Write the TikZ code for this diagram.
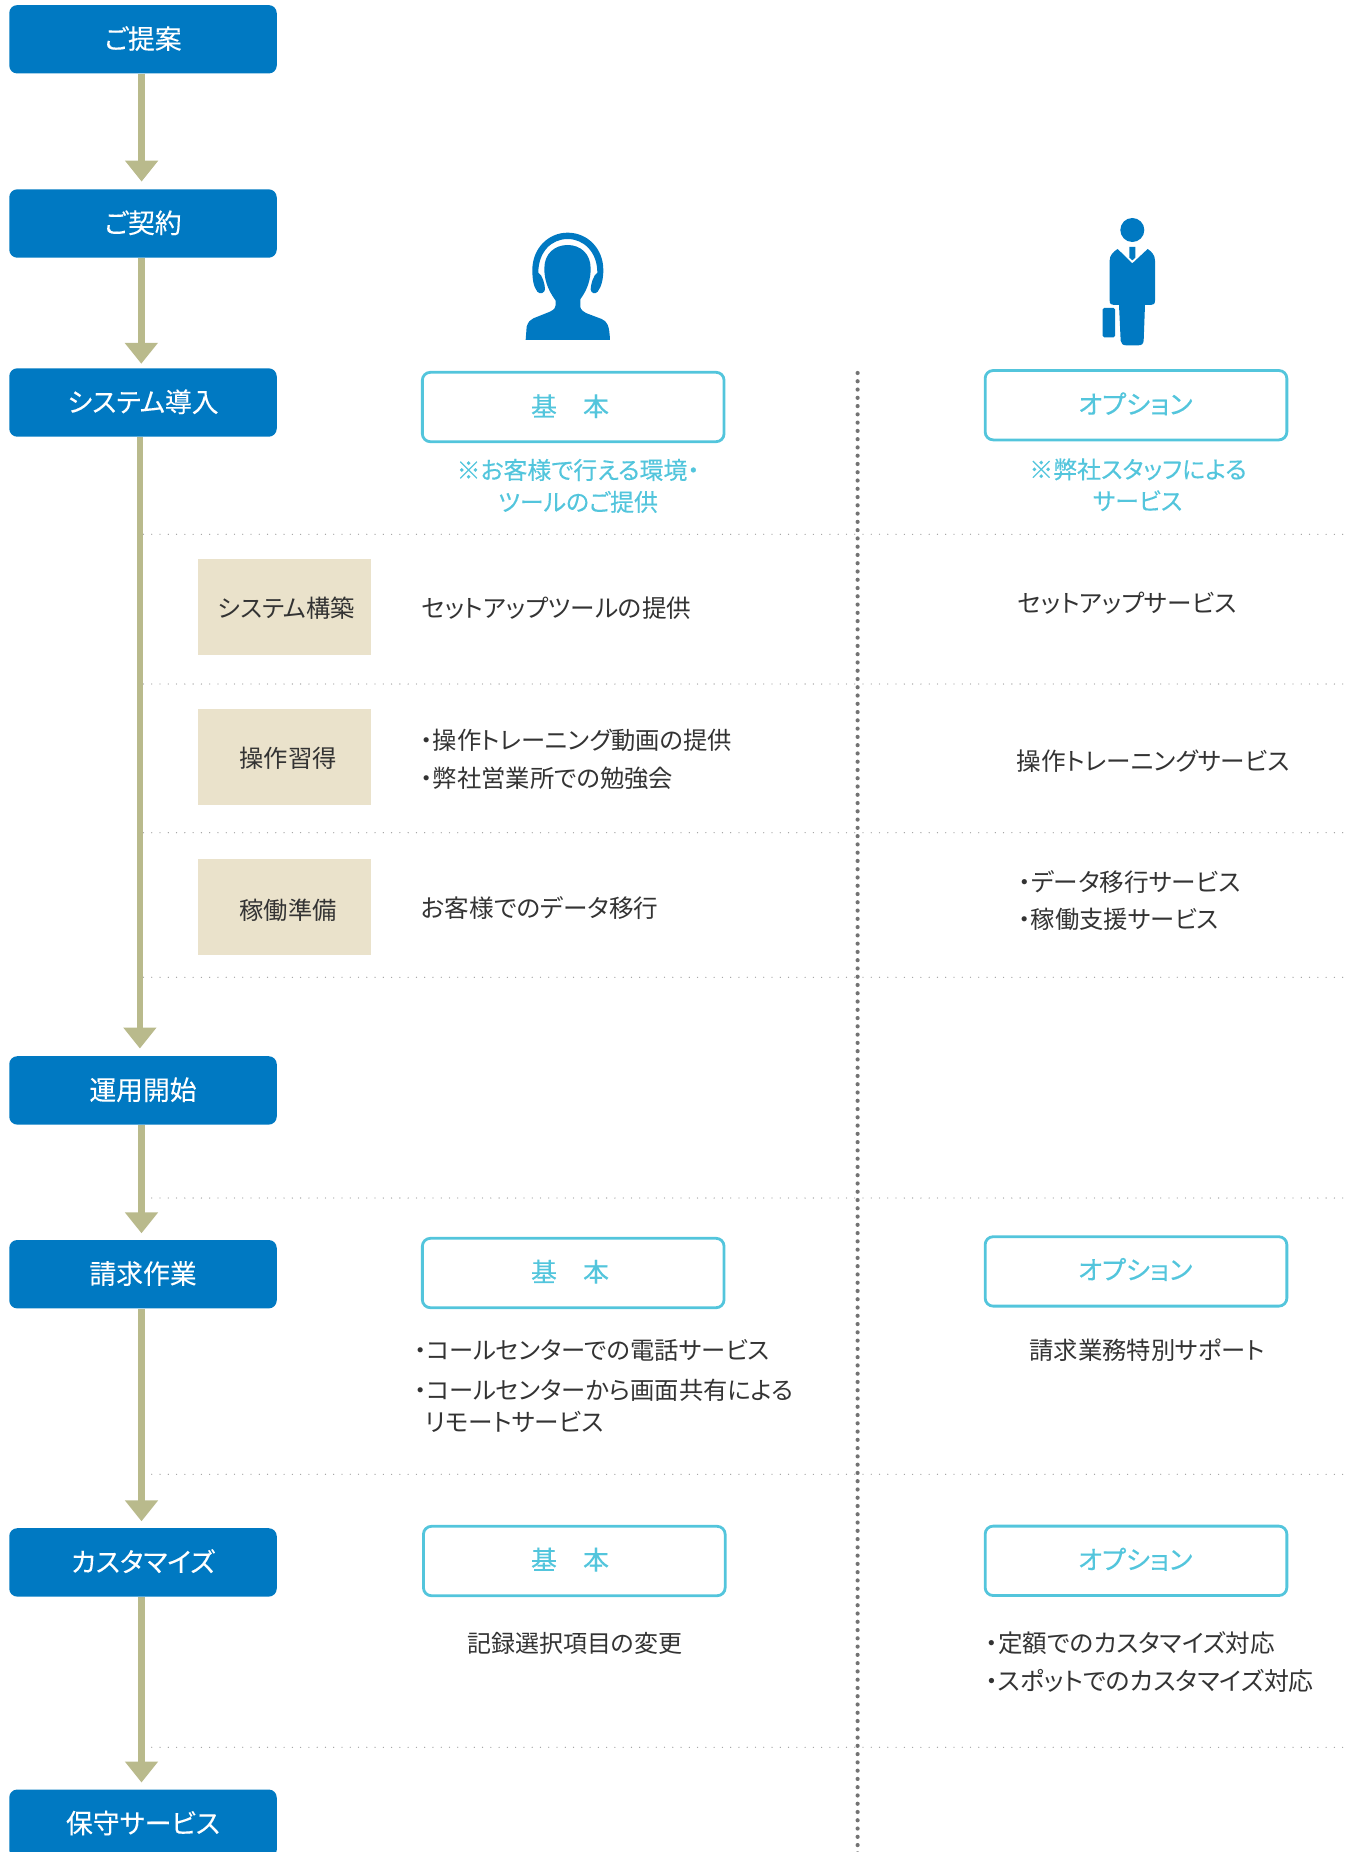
\documentclass[tikz,border=0pt]{standalone}
\usepackage{fontspec}
\usetikzlibrary{arrows.meta}
\setmainfont[RawFeature={+palt}]{Noto Sans CJK JP}
\newfontfamily\heavyjp[RawFeature={+palt},FakeBold=0.3]{Noto Sans CJK JP}
\newfontfamily\midjp[RawFeature={+palt},FakeBold=0.12]{Noto Sans CJK JP}
\definecolor{flowblue}{HTML}{0079C2}
\definecolor{shaftc}{HTML}{B9BA8C}
\definecolor{tealc}{HTML}{53C5DC}
\definecolor{beige}{HTML}{EAE2CB}
\definecolor{inkc}{HTML}{333333}
\tikzset{
  flowbox/.style={fill=flowblue,rounded corners=8pt,minimum width=267.5pt,minimum height=68.4pt,inner sep=0pt,text=white,font=\midjp\fontsize{26.8}{26.8}\selectfont,text height=22.2pt,text depth=3.2pt},
  flowarrow/.style={draw=shaftc,line width=6.7pt,-{Triangle[width=32pt,length=21pt]},shorten >=7.5pt},
  planbox/.style={draw=tealc,line width=2.8pt,rounded corners=8pt,minimum width=301.7pt,minimum height=69.4pt,inner sep=0pt},
  plantitle/.style={text=tealc,inner sep=0pt,font=\heavyjp\fontsize{26}{26}\selectfont,text height=22.9pt,text depth=3.1pt},
  noteline/.style={text=tealc,inner sep=0pt,font=\heavyjp\fontsize{23.9}{24}\selectfont,text height=21pt,text depth=2.9pt},
  phasebox/.style={fill=beige,minimum width=173pt,minimum height=96pt,inner sep=0pt},
  phaselabel/.style={text=inkc,inner sep=0pt,font=\fontsize{24.3}{24.3}\selectfont,text height=21.6pt,text depth=2.9pt},
  bodytext/.style={text=inkc,inner sep=0pt,font=\fontsize{24.6}{24.6}\selectfont,text height=21.6pt,text depth=3pt},
  kanjitext/.style={text=inkc,inner sep=0pt,font=\fontsize{24.3}{24.3}\selectfont,text height=21.6pt,text depth=3pt},
  rowrule/.style={draw=black!38,line width=1.3pt,line cap=round,dash pattern=on 0pt off 8.27pt},
  colrule/.style={draw=black!55,line width=4.2pt,line cap=round,dash pattern=on 0pt off 8.27pt},
}
\begin{document}
\begin{tikzpicture}[x=1pt,y=-1pt]
\useasboundingbox (0,0) rectangle (1344,1852);
\clip (0,0) rectangle (1344,1852);
% rules
\foreach \yy in {534.3,684,832.7,977.3,1198,1474.3,1747.3}
  \draw[rowrule] (143.5,\yy) -- (1344,\yy);
\draw[colrule] (857.6,373) -- (857.6,1865);
% flow boxes
\node[flowbox] (f1) at (143,39.3) {ご提案};
\node[flowbox] (f2) at (143,223.5) {ご契約};
\node[flowbox] (f3) at (143,402.5) {システム導入};
\node[flowbox] (f4) at (143,1090.4) {運用開始};
\node[flowbox] (f5) at (143,1274.2) {請求作業};
\node[flowbox] (f6) at (143,1562.4) {カスタマイズ};
\node[flowbox] (f7) at (143,1823.7) {保守サービス};
% arrows
\draw[flowarrow] ([xshift=-1.4pt]f1.south) -- ([xshift=-1.4pt]f2.north);
\draw[flowarrow,shorten >=4.3pt] ([xshift=-1.7pt]f2.south) -- ([xshift=-1.7pt]f3.north);
\draw[flowarrow] ([xshift=-3.1pt]f3.south) -- ([xshift=-3.1pt]f4.north);
\draw[flowarrow,shorten >=6.5pt] ([xshift=-1.5pt]f4.south) -- ([xshift=-1.5pt]f5.north);
\draw[flowarrow,shorten >=6.7pt] ([xshift=-1.5pt]f5.south) -- ([xshift=-1.5pt]f6.north);
\draw[flowarrow,shorten >=6.8pt] ([xshift=-1.5pt]f6.south) -- ([xshift=-1.5pt]f7.north);
% headset icon
\begin{scope}[shift={(500,210)},x=0.3333pt,y=-0.3333pt]
\fill[flowblue] (77,390) -- (80,350) .. controls (85,335) and (90,330) .. (100,325) -- (150,305)
  .. controls (165,298) and (167,290) .. (167,285) -- (167,272)
  .. controls (140,235) and (133,205) .. (133,175)
  .. controls (133,130) and (165,105) .. (203,105)
  .. controls (240,105) and (272,130) .. (272,175)
  .. controls (272,205) and (265,235) .. (241,268) -- (241,290)
  .. controls (241,298) and (250,305) .. (260,310) -- (305,327)
  .. controls (322,335) and (328,345) .. (330,390) -- cycle;
\fill[flowblue] (115,188) .. controls (128,195) and (135,225) .. (135,238)
  .. controls (135,248) and (120,255) .. (112,245)
  .. controls (100,230) and (97,205) .. (97,180)
  .. controls (97,115) and (145,68) .. (203,68)
  .. controls (262,68) and (310,115) .. (310,180)
  .. controls (310,205) and (305,230) .. (293,245)
  .. controls (285,255) and (272,248) .. (272,238)
  .. controls (272,225) and (280,195) .. (292,188)
  .. controls (292,125) and (250,87) .. (203,87)
  .. controls (155,87) and (115,125) .. (115,188) -- cycle;
\end{scope}
% businessman icon
\begin{scope}[shift={(1080,210)},x=0.3333pt,y=-0.3333pt]
\fill[flowblue] (157,60) circle[radius=12pt];
\fill[flowblue] (148,111) -- (166,111) -- (166,143) -- (157,151) -- (148,143) -- cycle;
\fill[flowblue] (113,117) -- (157,160) -- (203,117) .. controls (215,125) and (225,135) .. (225,152)
  -- (225,272) .. controls (225,282) and (220,285) .. (212,285) -- (195,285) -- (191,392)
  .. controls (190,402) and (185,406) .. (175,406) -- (138,406)
  .. controls (128,406) and (123,400) .. (122,392) -- (117,285) -- (102,285)
  .. controls (94,285) and (89,282) .. (89,272) -- (89,152)
  .. controls (89,135) and (100,125) .. (113,117) -- cycle;
\fill[flowblue,rounded corners=1.5pt] (68,294) rectangle (105,382);
\end{scope}
% plan boxes
\node[planbox] (b1) at (573.2,407) {};
\node[planbox] (o1) at (1136,405.2) {};
\node[planbox] (b2) at (573.2,1273) {};
\node[planbox] (o2) at (1136,1271.4) {};
\node[planbox] (b3) at (574.3,1561) {};
\node[planbox] (o3) at (1136,1560.8) {};
\node[plantitle] (tb1) at (570,406.2) {基　本};
\node[plantitle] (to1) at (1135.4,404) {オプション};
\node[plantitle] (tb2) at (570,1271.7) {基　本};
\node[plantitle] (to2) at (1135.2,1269.6) {オプション};
\node[plantitle] (tb3) at (570,1559.6) {基　本};
\node[plantitle] (to3) at (1135.2,1559.4) {オプション};
% notes
\node[noteline] (n1) at (578,470) {※お客様で行える環境・};
\node[noteline] (n2) at (578,502) {ツールのご提供};
\node[noteline] (n3) at (1138,469.4) {※弊社スタッフによる};
\node[noteline] (n4) at (1137.6,501) {サービス};
% phase boxes
\node[phasebox] (p1) at (284.5,607) {};
\node[phasebox] (p2) at (284.5,757) {};
\node[phasebox] (p3) at (284.5,907) {};
\node[phaselabel] (pl1) at (286.5,608) {システム構築};
\node[phaselabel] (pl2) at (288,758) {操作習得};
\node[phaselabel] (pl3) at (288,910) {稼働準備};
% basic column text
\node[bodytext,anchor=west] (t1) at (421.6,608.3) {セットアップツールの提供};
\node[kanjitext,anchor=west] (t2) at (420.5,740) {・操作トレーニング動画の提供};
\node[kanjitext,anchor=west] (t3) at (420.5,778) {・弊社営業所での勉強会};
\node[bodytext,anchor=west] (t4) at (421,908) {お客様でのデータ移行};
% option column text
\node[bodytext,anchor=west] (u1) at (1017.7,602.7) {セットアップサービス};
\node[bodytext,anchor=west] (u2) at (1016.7,760.7) {操作トレーニングサービス};
\node[bodytext,anchor=west] (u3) at (1018.5,881.7) {・データ移行サービス};
\node[kanjitext,anchor=west] (u4) at (1018.5,919) {・稼働支援サービス};
% billing
\node[kanjitext,anchor=west] (v1) at (414,1350) {・コールセンターでの電話サービス};
\node[kanjitext,anchor=west] (v2) at (414,1390) {・コールセンターから画面共有による};
\node[bodytext,anchor=west] (v3) at (425,1421.7) {リモートサービス};
\node[kanjitext] (v4) at (1147,1350) {請求業務特別サポート};
% customise
\node[kanjitext,font=\fontsize{24}{24}\selectfont] (w1) at (574.7,1643.3) {記録選択項目の変更};
\node[bodytext,anchor=west] (w2) at (985.5,1643.6) {・定額でのカスタマイズ対応};
\node[bodytext,font=\fontsize{24.9}{24.9}\selectfont,anchor=west] (w3) at (985.5,1681.2) {・スポットでのカスタマイズ対応};
\end{tikzpicture}
\end{document}
